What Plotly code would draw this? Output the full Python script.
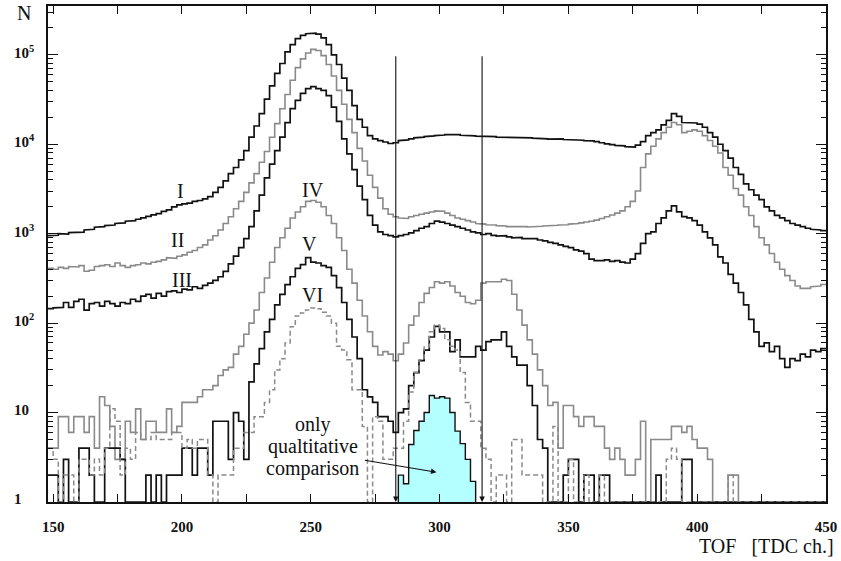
import plotly.graph_objects as go

# ---------------- data ----------------
bin_lo = list(range(148, 450, 2))   # lower bin edges, TDC channels
bin_w = 2

curve_I = [950, 960, 1000, 990, 1030, 1050, 1040, 1100, 1120, 1180,
           1200, 1230, 1250, 1300, 1320, 1380, 1400, 1450, 1500, 1560,
           1620, 1680, 1780, 1850, 2000, 2100, 2150, 2200, 2300, 2350,
           2450, 2600, 2900, 3300, 3900, 4700, 5500, 6700, 8500, 12000,
           16000, 22000, 32000, 45000, 62000, 80000, 108000, 130000, 152000, 165000,
           172000, 175000, 170000, 155000, 130000, 100000, 78000, 55000, 40000, 27000,
           19000, 15500, 12500, 11500, 11000, 10600, 10200, 10400, 11000, 11200,
           11500, 11800, 12000, 12200, 12400, 12500, 12700, 12800, 12900, 12800,
           12600, 12500, 12400, 12300, 12400, 12200, 12200, 12000, 12000, 11900,
           11800, 11800, 11800, 11800, 11700, 11600, 11500, 11400, 11600, 11500,
           11300, 11200, 11200, 11100, 11000, 10900, 10700, 10400, 10100, 9900,
           9700, 9600, 9400, 9300, 9800, 10700, 12500, 13500, 14500, 16500,
           18500, 22000, 20500, 17500, 17500, 17300, 16800, 15500, 13500, 12000,
           10000, 8500, 7000, 5500, 4600, 3600, 3100, 2700, 2400, 2000,
           1800, 1600, 1500, 1400, 1300, 1250, 1200, 1150, 1120, 1100,
           1080]

curve_II = [410, 400, 420, 410, 430, 425, 440, 380, 390, 430,
            440, 450, 430, 470, 440, 420, 440, 450, 470, 460,
            480, 490, 510, 540, 530, 560, 580, 620, 650, 700,
            750, 850, 950, 1100, 1300, 1550, 1900, 2300, 2900, 3700,
            4700, 6300, 8300, 12000, 17000, 25000, 36000, 52000, 72000, 90000,
            105000, 115000, 112000, 98000, 78000, 58000, 40000, 28000, 19000, 13500,
            9000, 6500, 4500, 3300, 2500, 1900, 1650, 1550, 1500, 1480,
            1550, 1600, 1650, 1700, 1750, 1800, 1780, 1700, 1600, 1500,
            1450, 1400, 1350, 1300, 1280, 1260, 1250, 1230, 1220, 1200,
            1220, 1200, 1200, 1190, 1200, 1210, 1220, 1230, 1240, 1250,
            1260, 1280, 1300, 1320, 1350, 1380, 1420, 1480, 1550, 1620,
            1700, 1800, 2000, 2300, 3000, 5500, 7800, 9500, 11500, 13500,
            15500, 17500, 16500, 13500, 14000, 14500, 14000, 12500, 11000, 9500,
            8000, 5500, 4500, 3200, 2700, 2000, 1600, 1200, 900, 750,
            600, 480, 400, 340, 300, 260, 245, 245, 255, 260,
            270]

curve_III = [145, 148, 150, 170, 150, 175, 185, 140, 165, 170,
             155, 175, 165, 155, 170, 165, 185, 175, 200, 210,
             190, 215, 200, 225, 230, 220, 240, 235, 255, 245,
             265, 280, 300, 330, 380, 460, 560, 700, 880, 1200,
             1800, 2700, 4200, 6000, 8500, 12000, 17500, 25000, 31000, 37000,
             42000, 44000, 42000, 40000, 35000, 26000, 18000, 11500, 7800, 5200,
             3400, 2400, 1600, 1250, 1050, 980, 950, 920, 950, 980,
             1020, 1080, 1150, 1200, 1300, 1380, 1350, 1300, 1250, 1200,
             1150, 1100, 1050, 1020, 980, 1000, 960, 940, 950, 920,
             900, 910, 880, 870, 880, 850, 830, 800, 780, 750,
             720, 700, 660, 640, 600, 520, 500, 500, 510, 490,
             500, 480, 470, 520, 600, 780, 1000, 1050, 1300, 1500,
             1800, 2050, 1750, 1550, 1500, 1400, 1250, 1050, 900, 750,
             550, 470, 350, 280, 220, 160, 110, 80, 55, 60,
             48, 55, 40, 32, 40, 38, 45, 42, 50, 48,
             52]

curve_IV = [4, 4, 9, 9, 6, 9, 9, 6, 9, 4,
            15, 12, 7, 3, 3, 8, 6, 11, 5, 8,
            8, 6, 6, 11, 6, 7, 13, 13, 13, 15,
            18, 18, 20, 26, 30, 32, 45, 55, 75, 100,
            140, 220, 320, 480, 700, 900, 1150, 1500, 1750, 2000,
            2300, 2350, 2250, 2000, 1600, 1300, 900, 650, 400, 280,
            180, 120, 80, 55, 44, 48, 45, 38, 45, 60,
            95, 120, 170, 215, 250, 290, 280, 290, 260, 220,
            200, 170, 165, 180, 280, 290, 285, 290, 310, 300,
            210, 140, 95, 65, 45, 30, 20, 12, 13, 4,
            12, 12, 9, 7, 9, 9, 7, 7, 4, 3,
            4, 3, 2, 2, 3, 8, 1, 5, 5, 5,
            5, 7, 7, 6, 7, 5, 4, 4, 3, 1,
            1, 1, 2, 2, 1, 1, 1, 1, 1, 1,
            1, 1, 1, 1, 1, 1, 1, 1, 1, 1,
            1]

curve_V = [2, 2, 1, 3, 1, 1, 4, 4, 2, 1,
           1, 4, 4, 4, 3, 1, 1, 1, 1, 2,
           1, 2, 1, 2, 2, 2, 4, 4, 2, 4,
           4, 2, 8, 8, 8, 3, 10, 8, 3, 22,
           35, 52, 80, 110, 160, 210, 270, 330, 410, 450,
           540, 480, 470, 440, 420, 340, 250, 170, 110, 70,
           40, 18, 15, 13, 9, 9, 8, 6, 10, 11,
           20, 28, 38, 50, 70, 92, 80, 80, 48, 65,
           42, 42, 42, 55, 50, 62, 65, 65, 80, 55,
           42, 34, 34, 20, 12, 5, 4, 1, 1, 1,
           2, 3, 3, 1, 2, 2, 1, 2, 2, 1,
           1, 1, 1, 1, 1, 1, 1, 1, 2, 1,
           1, 1, 1, 3, 3, 1, 1, 1, 1, 1,
           1, 1, 1, 1, 1, 1, 1, 1, 1, 1,
           1, 1, 1, 1, 1, 1, 1, 1, 1, 1,
           1]

curve_VI = [4, 3, 1, 2, 2, 1, 3, 3, 2, 3,
            2, 4, 11, 8, 2, 4, 3, 6, 5, 5,
            6, 5, 5, 5, 6, 6, 4, 5, 4, 5,
            5, 2, 1, 2, 2, 2, 4, 4, 6, 6,
            9, 9, 13, 18, 30, 40, 60, 91, 120, 130,
            140, 148, 145, 132, 120, 100, 55, 50, 39, 18,
            18, 7, 1, 9, 8, 3, 3, 4, 4, 8,
            17, 28, 39, 54, 80, 95, 87, 65, 55, 50,
            28, 13, 8, 8, 4, 3, 1, 2, 2, 1,
            5, 5, 2, 2, 2, 2, 1, 1, 7, 1,
            1, 3, 1, 1, 2, 1, 1, 2, 1, 1,
            1, 1, 1, 1, 1, 1, 1, 1, 1, 1,
            3, 4, 3, 1, 1, 1, 1, 1, 1, 1,
            1, 1, 2, 1, 1, 1, 1, 1, 1, 1,
            1, 1, 1, 1, 1, 1, 1, 1, 1, 1,
            1]

cyan_lo = list(range(284, 314, 2))
cyan_vals = [2, 1.6, 4.4, 6.3, 8, 10, 15.5, 14.5, 15, 14.5, 10, 6.2, 4.5, 3, 1.7]

cut_lines = [283, 316.5]          # TDC channels of the window arrows

x_ticks = list(range(150, 451, 25))
x_labels = {150: "150", 200: "200", 250: "250", 300: "300", 350: "350", 400: "400", 450: "450"}
y_decades = [0, 1, 2, 3, 4, 5]
y_labels = ["1", "10", "10<sup>2</sup>", "10<sup>3</sup>", "10<sup>4</sup>", "10<sup>5</sup>"]

curve_labels = [("I", 199.6, 3.48), ("II", 198.4, 2.93), ("III", 200.0, 2.48),
                ("IV", 250.8, 3.49), ("V", 249.6, 2.89), ("VI", 250.8, 2.31)]

comment_lines = ["only", "qualtitative", "comparison"]

# ---------------- helpers ----------------
def steps(lo, vals, w):
    xs, ys = [], []
    for x0, v in zip(lo, vals):
        xs += [x0, x0 + w]
        ys += [v, v]
    return xs, ys

SERIF = "Liberation Serif"
BLACK = "#111111"
GRAY = "#8a8a8a"

fig = go.Figure()

cx, cy = steps(cyan_lo, cyan_vals, bin_w)
cx = [cyan_lo[0]] + cx + [cyan_lo[-1] + bin_w]
cy = [1] + cy + [1]
fig.add_trace(go.Scatter(x=cx, y=cy, mode="lines", fill="toself",
                         fillcolor="#b4ffff", line=dict(color=BLACK, width=1.4),
                         hoverinfo="skip", showlegend=False))

styles = [
    (curve_I, BLACK, 1.7, "solid"),
    (curve_II, GRAY, 1.6, "solid"),
    (curve_III, BLACK, 1.7, "solid"),
    (curve_IV, GRAY, 1.6, "solid"),
    (curve_V, BLACK, 1.7, "solid"),
    (curve_VI, GRAY, 1.5, "5px,3px"),
]
for vals, col, w, dash in styles:
    xs, ys = steps(bin_lo, vals, bin_w)
    fig.add_trace(go.Scatter(x=xs, y=ys, mode="lines",
                             line=dict(color=col, width=w, dash=dash),
                             hoverinfo="skip", showlegend=False))

annotations = []
for xc in cut_lines:
    annotations.append(dict(x=xc, y=0, ax=xc, ay=5, xref="x", yref="y",
                            axref="x", ayref="y", showarrow=True, text="",
                            arrowhead=2, arrowsize=1.0, arrowwidth=1.1,
                            arrowcolor=BLACK))
for txt, xc, ly in curve_labels:
    annotations.append(dict(x=xc, y=ly, xref="x", yref="y", text=txt,
                            showarrow=False, xanchor="center", yanchor="middle",
                            font=dict(family=SERIF, size=20, color=BLACK)))
for line, ly in zip(comment_lines, [0.87, 0.625, 0.37]):
    annotations.append(dict(x=250.8, y=ly, xref="x", yref="y",
                            text=line, showarrow=False, xanchor="center", yanchor="middle",
                            font=dict(family=SERIF, size=20, color=BLACK)))
annotations.append(dict(x=298.8, y=0.333, ax=270.4, ay=0.47, xref="x", yref="y",
                        axref="x", ayref="y", text="", showarrow=True,
                        arrowhead=2, arrowsize=1.0, arrowwidth=1.1, arrowcolor=BLACK))
for d, lab in zip(y_decades, y_labels):
    annotations.append(dict(x=-0.0462, y=d, xref="paper", yref="y", text="<b>" + lab + "</b>",
                            showarrow=False, xanchor="left", yanchor="middle", yshift=3,
                            font=dict(family=SERIF, size=15, color=BLACK)))
annotations.append(dict(x=-0.0308, y=0.985, xref="paper", yref="paper", text="N",
                        showarrow=False, xanchor="center", yanchor="middle",
                        font=dict(family=SERIF, size=20, color=BLACK)))
annotations.append(dict(x=1.013, y=-0.088, xref="paper", yref="paper",
                        text="TOF\u00a0\u00a0\u00a0[TDC ch.]", showarrow=False,
                        xanchor="right", yanchor="middle",
                        font=dict(family=SERIF, size=20, color=BLACK)))

fig.update_layout(
    width=841, height=561,
    margin=dict(l=48, r=14, t=4, b=59),
    paper_bgcolor="white", plot_bgcolor="white",
    annotations=annotations,
    xaxis=dict(range=[148, 450], tickmode="array", tickvals=x_ticks,
               ticktext=["<b>" + x_labels.get(t, "") + "</b>" for t in x_ticks],
               ticks="inside", ticklen=8, tickwidth=1, tickcolor=BLACK,
               showline=True, linecolor=BLACK, linewidth=1.5, mirror="ticks",
               showgrid=False, zeroline=False, ticklabelstandoff=10,
               tickfont=dict(family=SERIF, size=15, color=BLACK)),
    yaxis=dict(type="log", range=[0, 5.546], dtick=1,
               ticks="inside", ticklen=10, tickwidth=1, tickcolor=BLACK,
               showline=True, linecolor=BLACK, linewidth=1.5, mirror="ticks",
               showgrid=False, zeroline=False, showticklabels=False,
               minor=dict(ticks="inside", ticklen=5, dtick="D1", tickcolor=BLACK,
                          showgrid=False)),
)

fig.write_html("out.html")
